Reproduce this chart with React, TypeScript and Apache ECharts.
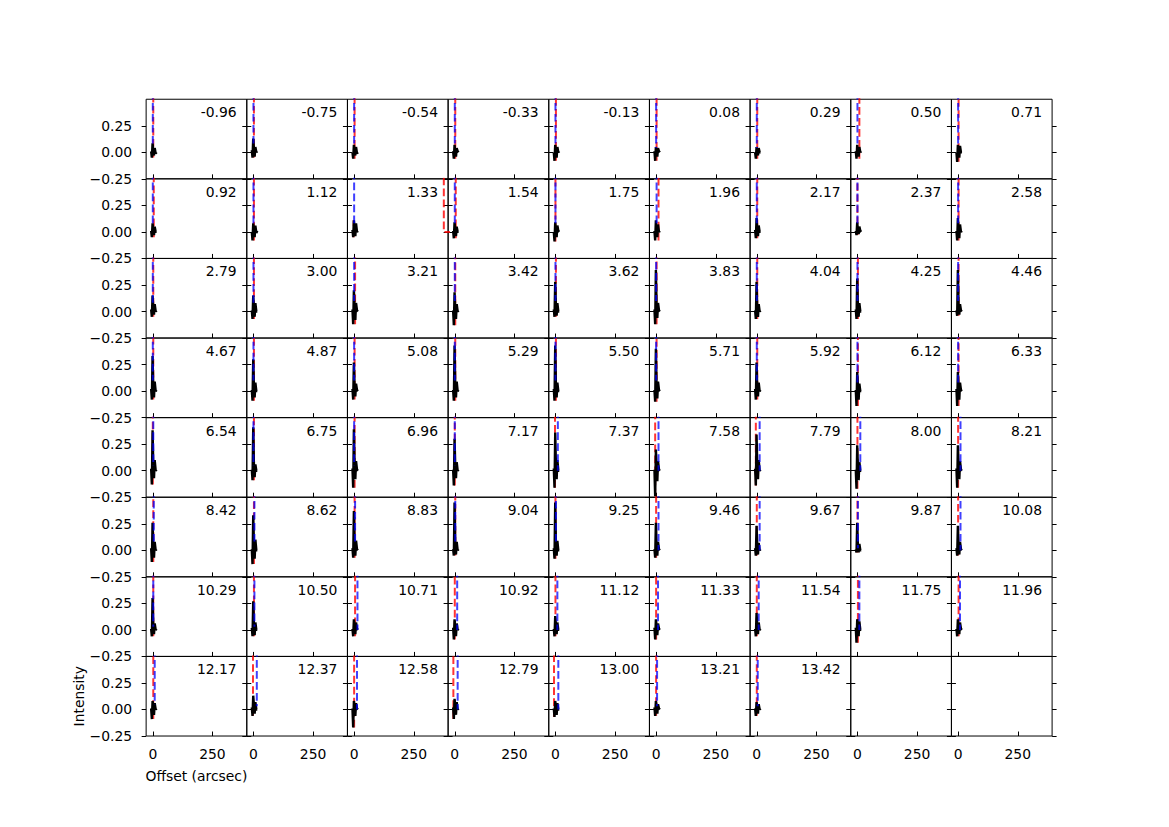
import React, { useEffect, useRef } from "react";
import * as echarts from "echarts";

const PANEL_LABELS = [
  "-0.96", "-0.75", "-0.54", "-0.33", "-0.13", "0.08", "0.29", "0.50", "0.71",
  "0.92", "1.12", "1.33", "1.54", "1.75", "1.96", "2.17", "2.37", "2.58",
  "2.79", "3.00", "3.21", "3.42", "3.62", "3.83", "4.04", "4.25", "4.46",
  "4.67", "4.87", "5.08", "5.29", "5.50", "5.71", "5.92", "6.12", "6.33",
  "6.54", "6.75", "6.96", "7.17", "7.37", "7.58", "7.79", "8.00", "8.21",
  "8.42", "8.62", "8.83", "9.04", "9.25", "9.46", "9.67", "9.87", "10.08",
  "10.29", "10.50", "10.71", "10.92", "11.12", "11.33", "11.54", "11.75", "11.96",
  "12.17", "12.37", "12.58", "12.79", "13.00", "13.21", "13.42",
];

const BLACK_X = [-7, -4, -1, 2, 5, 8, 12, 16];

const BLACK_Y = [
  [0.01, -0.05, 0.085, 0.02, -0.03, 0.04, -0.01, 0.0],
  [0.02, -0.05, 0.13, 0.03, -0.04, 0.05, 0.0, 0.01],
  [0.0, -0.06, 0.07, 0.02, -0.03, 0.05, -0.01, 0.0],
  [0.01, -0.06, 0.07, 0.0, -0.04, 0.04, 0.01, 0.0],
  [0.0, -0.08, 0.07, 0.02, -0.05, 0.05, 0.0, 0.01],
  [0.01, -0.08, 0.05, 0.0, -0.04, 0.04, 0.01, 0.0],
  [0.0, -0.06, 0.05, 0.02, -0.03, 0.04, 0.0, 0.0],
  [0.01, -0.06, 0.07, 0.01, -0.04, 0.05, 0.0, 0.01],
  [0.0, -0.09, 0.07, 0.02, -0.05, 0.06, 0.0, 0.0],

  [0.01, -0.05, 0.08, 0.02, -0.03, 0.05, 0.0, 0.0],
  [0.0, -0.08, 0.08, 0.01, -0.05, 0.06, -0.01, 0.01],
  [0.02, -0.05, 0.11, 0.03, -0.04, 0.08, 0.0, 0.01],
  [0.01, -0.06, 0.09, 0.02, -0.04, 0.05, 0.0, 0.0],
  [0.0, -0.09, 0.09, 0.02, -0.05, 0.06, 0.01, 0.0],
  [0.01, -0.08, 0.11, 0.02, -0.05, 0.07, 0.0, 0.01],
  [0.02, -0.06, 0.13, 0.03, -0.04, 0.06, 0.0, 0.0],
  [0.01, -0.03, 0.09, 0.02, -0.02, 0.05, 0.01, 0.0],
  [0.01, -0.08, 0.13, 0.03, -0.06, 0.07, 0.0, 0.01],

  [0.02, -0.05, 0.15, 0.04, -0.03, 0.07, 0.0, 0.01],
  [0.01, -0.07, 0.15, 0.03, -0.05, 0.08, 0.0, 0.0],
  [0.02, -0.12, 0.2, 0.04, -0.08, 0.08, 0.01, 0.0],
  [0.01, -0.13, 0.18, 0.03, -0.07, 0.07, 0.0, 0.01],
  [0.02, -0.05, 0.28, 0.04, -0.04, 0.08, 0.0, 0.0],
  [0.02, -0.12, 0.39, 0.05, -0.06, 0.08, 0.01, 0.0],
  [0.01, -0.07, 0.28, 0.03, -0.05, 0.07, 0.0, 0.01],
  [0.02, -0.07, 0.31, 0.04, -0.05, 0.08, 0.0, 0.0],
  [0.01, -0.04, 0.39, 0.05, -0.03, 0.07, 0.01, 0.0],

  [0.02, -0.08, 0.33, 0.04, -0.06, 0.09, 0.0, 0.01],
  [0.01, -0.09, 0.3, 0.03, -0.06, 0.08, 0.0, 0.0],
  [0.02, -0.08, 0.27, 0.04, -0.05, 0.07, 0.01, 0.0],
  [0.01, -0.09, 0.43, 0.05, -0.06, 0.09, 0.0, 0.01],
  [0.02, -0.09, 0.43, 0.04, -0.06, 0.08, 0.0, 0.0],
  [0.01, -0.1, 0.4, 0.04, -0.07, 0.09, 0.01, 0.0],
  [0.02, -0.08, 0.27, 0.03, -0.05, 0.08, 0.0, 0.01],
  [0.01, -0.14, 0.18, 0.04, -0.08, 0.07, 0.0, 0.0],
  [0.02, -0.14, 0.18, 0.03, -0.08, 0.08, 0.01, 0.0],

  [0.02, -0.13, 0.38, 0.05, -0.07, 0.1, 0.0, 0.01],
  [0.01, -0.09, 0.41, 0.04, -0.06, 0.06, 0.0, 0.0],
  [0.02, -0.16, 0.39, 0.05, -0.08, 0.09, 0.01, 0.0],
  [0.01, -0.14, 0.3, 0.04, -0.07, 0.08, 0.0, 0.01],
  [0.02, -0.16, 0.36, 0.05, -0.08, 0.1, 0.0, 0.0],
  [0.01, -0.24, 0.2, 0.04, -0.1, 0.09, 0.01, 0.0],
  [0.02, -0.14, 0.34, 0.05, -0.08, 0.1, 0.0, 0.01],
  [0.01, -0.17, 0.24, 0.04, -0.09, 0.08, 0.0, 0.0],
  [0.02, -0.16, 0.24, 0.05, -0.08, 0.09, 0.01, 0.0],

  [0.02, -0.11, 0.26, 0.05, -0.07, 0.08, 0.0, 0.01],
  [0.01, -0.13, 0.33, 0.06, -0.08, 0.1, 0.0, 0.0],
  [0.02, -0.07, 0.37, 0.05, -0.05, 0.09, 0.01, 0.0],
  [0.01, -0.05, 0.45, 0.04, -0.04, 0.08, 0.0, 0.01],
  [0.02, -0.08, 0.45, 0.05, -0.05, 0.09, 0.0, 0.0],
  [0.01, -0.07, 0.26, 0.04, -0.05, 0.08, 0.01, 0.0],
  [0.02, -0.05, 0.23, 0.05, -0.04, 0.07, 0.0, 0.01],
  [0.01, -0.02, 0.26, 0.04, -0.02, 0.06, 0.0, 0.0],
  [0.02, -0.05, 0.23, 0.05, -0.04, 0.08, 0.01, 0.0],

  [0.01, -0.06, 0.3, 0.04, -0.04, 0.06, 0.0, 0.01],
  [0.02, -0.06, 0.27, 0.04, -0.05, 0.07, 0.0, 0.0],
  [0.01, -0.06, 0.1, 0.04, -0.04, 0.07, 0.01, 0.0],
  [0.02, -0.09, 0.1, 0.03, -0.06, 0.06, 0.0, 0.01],
  [0.01, -0.06, 0.13, 0.04, -0.04, 0.07, 0.0, 0.0],
  [0.02, -0.09, 0.1, 0.03, -0.05, 0.06, 0.01, 0.0],
  [0.01, -0.06, 0.16, 0.04, -0.04, 0.07, 0.0, 0.01],
  [0.02, -0.12, 0.1, 0.05, -0.06, 0.08, 0.0, 0.0],
  [0.01, -0.06, 0.1, 0.04, -0.04, 0.07, 0.01, 0.0],

  [0.01, -0.09, 0.08, 0.03, -0.05, 0.06, 0.0, 0.01],
  [0.02, -0.06, 0.13, 0.04, -0.04, 0.07, 0.0, 0.0],
  [0.01, -0.17, 0.08, 0.03, -0.06, 0.06, 0.01, 0.0],
  [0.02, -0.09, 0.1, 0.04, -0.05, 0.07, 0.0, 0.01],
  [0.01, -0.07, 0.08, 0.03, -0.05, 0.06, 0.0, 0.0],
  [0.02, -0.06, 0.08, 0.04, -0.04, 0.05, 0.01, 0.0],
  [0.01, -0.06, 0.07, 0.03, -0.04, 0.05, 0.0, 0.01],
];

// red dashed model: vertical from RED_LO to RED_TOP at RED_X
const RED_X = [
  2, 2, 2, 2, 2, 2, 2, 8, 2,
  4, 2, -2, 4, 0, 10, 2, 0, 2,
  2, 2, 4, 2, 2, 2, 2, 2, 2,
  2, 2, 2, 2, 2, 2, 2, 2, 2,
  0, 2, 2, 0, -2, -4, -4, 0, 0,
  2, 2, 2, 2, 0, 0, 0, 0, 0,
  2, 2, 4, 0, 0, 0, 0, 2, 2,
  2, -2, 0, -6, -6, 0, 0,
];
const RED_LO = [
  -0.05, -0.05, -0.06, -0.06, -0.08, -0.08, -0.06, -0.06, -0.09,
  -0.05, -0.08, -0.05, -0.06, -0.09, -0.08, -0.06, -0.03, -0.08,
  -0.05, -0.07, -0.12, -0.13, -0.05, -0.12, -0.07, -0.07, -0.04,
  -0.08, -0.09, -0.08, -0.09, -0.09, -0.1, -0.08, -0.14, -0.14,
  -0.13, -0.09, -0.16, -0.14, -0.16, -0.24, -0.14, -0.17, -0.16,
  -0.11, -0.13, -0.07, -0.05, -0.08, -0.07, -0.05, -0.02, -0.05,
  -0.06, -0.06, -0.06, -0.09, -0.06, -0.09, -0.06, -0.12, -0.06,
  -0.09, -0.06, -0.17, -0.09, -0.07, -0.06, -0.06,
];
const RED_TOP = [
  3, 3, 3, 3, 3, 3, 3, 3, 3,
  3, 3, 0.11, 3, 3, 3, 3, 3, 3,
  3, 3, 3, 3, 3, 3, 3, 3, 3,
  3, 3, 3, 3, 3, 3, 3, 3, 3,
  3, 3, 3, 3, 3, 3, 3, 3, 3,
  3, 3, 3, 3, 3, 3, 3, 3, 3,
  3, 3, 3, 3, 3, 3, 3, 3, 3,
  3, 3, 3, 3, 3, 3, 3,
];
// extra red segment at the far offset of panel "1.33"
const RED_FAR_PANEL = 11;
const RED_FAR_PTS = [[376, 3], [376, 0], [430, 0]];

const BLUE_X = [
  0, 0, 0, 0, 0, 0, 0, 0, 0,
  0, 0, 0, 0, 0, 2, 0, 0, 0,
  0, 0, 0, 0, 0, 0, 0, 0, 0,
  0, 0, 0, 0, 0, 0, 0, 0, 0,
  2, 0, 0, 0, 10, 10, 12, 12, 10,
  4, 4, 4, 2, 2, 10, 12, 2, 10,
  2, 4, 14, 10, 8, 8, 8, 8, 8,
  8, 14, 12, 12, 12, 4, 4,
];
const BLUE_LO = [
  0.06, 0.08, 0.05, 0.05, 0.05, 0.04, 0.04, 0.05, 0.05,
  0.06, 0.06, 0.08, 0.06, 0.06, 0.08, 0.08, 0.06, 0.08,
  0.08, 0.08, 0.1, 0.1, 0.1, 0.1, 0.1, 0.1, 0.1,
  0.1, 0.1, 0.1, 0.1, 0.1, 0.1, 0.1, 0.08, 0.08,
  0.05, 0.05, 0.05, 0.05, 0.0, 0.0, 0.0, 0.0, 0.0,
  0.05, 0.05, 0.05, 0.05, 0.05, 0.0, 0.0, 0.02, 0.0,
  0.03, 0.03, 0.0, 0.0, 0.0, 0.0, 0.0, 0.0, 0.0,
  0.05, 0.03, 0.0, 0.0, 0.0, 0.03, 0.03,
];

const X_RANGE = [-28, 394];
const Y_RANGE = [-0.25, 0.5];
const X_TICKS = [0, 250];
const Y_TICKS = [-0.25, 0, 0.25];

const X_TITLE = "Offset (arcsec)";
const Y_TITLE = "Intensity";

export default function App() {
  const ref = useRef<HTMLDivElement>(null);
  useEffect(() => {
    if (!ref.current) return;
    const chart = echarts.init(ref.current, null, { renderer: "svg" });
    const FONT = "DejaVu Sans";
    const FS = 13.9;
    const L = 146.125, R = 1052.1, T = 99.24, B = 736.03;
    const COLS = 9, ROWS = 8;
    const cw = (R - L) / COLS;
    const ch = (B - T) / ROWS;
    const nPanels = PANEL_LABELS.length;

    const grids: any[] = [];
    const xAxes: any[] = [];
    const yLeft: any[] = [];
    const yRight: any[] = [];
    const series: any[] = [];
    const graphics: any[] = [];

    const yFmt = (v: number) =>
      (v < 0 ? "\u2212" : "") + Math.abs(v).toFixed(2);

    for (let k = 0; k < ROWS * COLS; k++) {
      const r = Math.floor(k / COLS);
      const c = k % COLS;
      const left = L + c * cw;
      const top = T + r * ch;
      grids.push({
        left, top, width: cw, height: ch,
        show: true, borderColor: "#000", borderWidth: 1,
        backgroundColor: "transparent",
      });
      xAxes.push({
        type: "value", gridIndex: k, min: X_RANGE[0], max: X_RANGE[1],
        position: "bottom",
        axisLine: { show: false, onZero: false },
        splitLine: { show: false },
        axisTick: {
          show: true, inside: true, length: 4.5, customValues: X_TICKS,
          lineStyle: { color: "#000", width: 1 },
        },
        axisLabel: {
          show: r === ROWS - 1, customValues: X_TICKS, margin: 11,
          color: "#000", fontSize: FS, fontFamily: FONT,
          formatter: (v: number) => String(v),
        },
      });
      const yBase = {
        type: "value", gridIndex: k, min: Y_RANGE[0], max: Y_RANGE[1],
        interval: 0.25,
        axisLine: { show: false, onZero: false },
        splitLine: { show: false },
      };
      yLeft.push({
        ...yBase, position: "left",
        axisTick: {
          show: true, inside: false, length: 4.5, customValues: Y_TICKS,
          lineStyle: { color: "#000", width: 1 },
        },
        axisLabel: {
          show: c === 0, customValues: Y_TICKS, margin: 14,
          color: "#000", fontSize: FS, fontFamily: FONT, formatter: yFmt,
        },
      });
      yRight.push({
        ...yBase, position: "right",
        axisTick: {
          show: true, inside: false, length: 4.5, customValues: Y_TICKS,
          lineStyle: { color: "#000", width: 1 },
        },
        axisLabel: { show: false },
      });

      if (k < nPanels) {
        series.push({
          type: "line", xAxisIndex: k, yAxisIndex: k, symbol: "none",
          clip: true, silent: true, z: 2,
          data: [[RED_X[k], RED_LO[k]], [RED_X[k], RED_TOP[k]]],
          lineStyle: { color: "rgba(255,0,0,0.8)", width: 2, type: [7.7, 3.3] },
        });
        if (k === RED_FAR_PANEL) {
          series.push({
            type: "line", xAxisIndex: k, yAxisIndex: k, symbol: "none",
            clip: true, silent: true, z: 2,
            data: RED_FAR_PTS,
            lineStyle: { color: "rgba(255,0,0,0.8)", width: 2, type: [7.7, 3.3] },
          });
        }
        series.push({
          type: "line", xAxisIndex: k, yAxisIndex: k, symbol: "none",
          clip: true, silent: true, z: 3,
          data: BLACK_X.map((x, j) => [x, BLACK_Y[k][j]]),
          lineStyle: { color: "#000", width: 2.4 },
        });
        series.push({
          type: "line", xAxisIndex: k, yAxisIndex: k, symbol: "none",
          clip: true, silent: true, z: 4,
          data: [[BLUE_X[k], 3], [BLUE_X[k], BLUE_LO[k]]],
          lineStyle: {
            color: "rgba(0,0,255,0.75)", width: 2, type: [7.7, 3.3], dashOffset: 5.5,
          },
        });
        graphics.push({
          type: "text", silent: true,
          style: {
            text: PANEL_LABELS[k], x: left + 0.9 * cw, y: top + 13,
            align: "right", verticalAlign: "middle",
            fontSize: FS, fontFamily: FONT, fill: "#000",
          },
        });
      }
    }

    graphics.push({
      type: "text", silent: true,
      style: {
        text: X_TITLE, x: L + cw / 2, y: 776, align: "center", verticalAlign: "middle",
        fontSize: FS, fontFamily: FONT, fill: "#000",
      },
    });
    graphics.push({
      type: "text", silent: true, x: 79, y: T + (ROWS - 0.5) * ch, rotation: Math.PI / 2,
      style: {
        text: Y_TITLE, x: 0, y: 0, align: "center", verticalAlign: "middle",
        fontSize: FS, fontFamily: FONT, fill: "#000",
      },
    });

    chart.setOption({
      animation: false,
      backgroundColor: "#fff",
      grid: grids,
      xAxis: xAxes,
      yAxis: [...yLeft, ...yRight],
      series,
      graphic: graphics,
    });
    return () => chart.dispose();
  }, []);
  return (
    <div
      ref={ref}
      style={{ position: "absolute", left: 0, top: 0, width: 1169, height: 827 }}
    />
  );
}
